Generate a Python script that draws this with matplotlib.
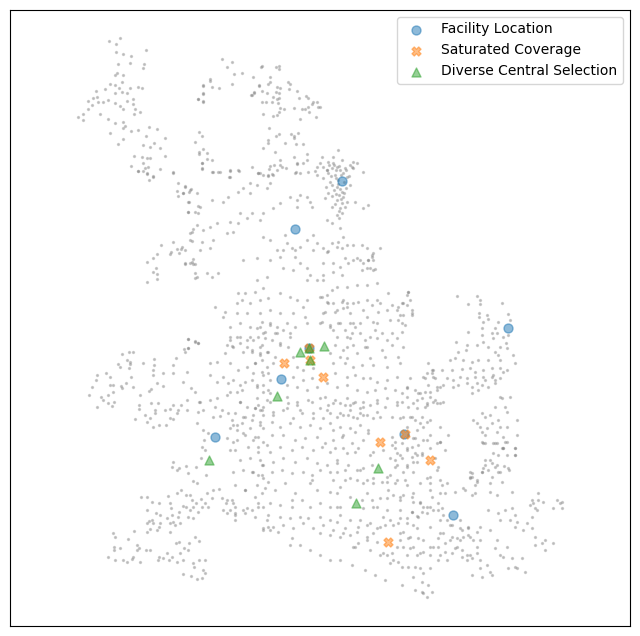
import numpy as np
import matplotlib
matplotlib.use("Agg")
import matplotlib.pyplot as plt

# Selected points (embedding coordinates)
facility_x = [342, 295, 508, 309, 281, 215, 404, 453]
facility_y = [181, 229, 328, 348, 379, 437, 434, 515]
saturated_x = [309, 284, 310, 323, 405, 380, 430, 388]
saturated_y = [348, 363, 360, 377, 434, 442, 460, 542]
diverse_x = [300, 309, 310, 324, 277, 209, 378, 356]
diverse_y = [352, 348, 360, 346, 396, 460, 468, 503]

series_labels = ["Facility Location", "Saturated Coverage", "Diverse Central Selection"]

# Background point cloud (hand-read approximate positions)
background_xy = [
(109,41),(120,38),(116,44),(116,52),(123,54),(131,56),(146,50),(118,64),(130,63),(144,64),(143,68),(115,75),(123,75),(117,73),
(96,91),(105,89),(110,84),(115,85),(122,82),(119,88),(130,88),(138,87),(142,88),(115,93),(122,92),(127,93),(88,101),(93,98),
(97,97),(98,102),(103,102),(108,100),(115,103),(120,106),(127,101),(133,99),(133,104),(92,105),(88,109),(78,117),(83,120),(83,114),
(100,114),(108,119),(123,109),(135,109),(140,112),(134,114),(115,123),(123,122),(125,126),(123,128),(131,131),(138,130),(149,127),
(157,129),(110,133),(123,139),(146,136),(118,144),(143,145),(150,147),(154,143),(160,148),(165,138),(134,156),(142,157),(147,158),
(150,158),(143,163),(148,167),(145,168),(131,166),(138,171),(147,174),(153,177),(160,169),(165,156),(173,173),
(222,59),(232,62),(227,67),(234,74),(242,73),(253,77),(210,79),(210,81),(203,86),(212,87),(219,88),(232,84),(254,92),(252,95),
(198,99),(203,94),(203,101),(259,85),(199,132),(202,136),(195,142),(203,149),(199,152),(199,154),(207,153),(207,159),(212,160),
(202,163),(202,169),(212,172),(218,172),(230,171),(239,171),(229,177),(258,173),
(262,66),(261,67),(276,67),(279,66),(279,69),(270,77),(270,82),(268,84),(259,86),(277,87),(280,88),(288,82),(290,84),(289,89),
(297,91),(262,91),(267,93),(276,92),(279,93),(254,93),(251,95),(306,96),(308,98),(299,98),(279,98),(273,97),(277,99),(262,102),
(266,102),(272,102),(278,103),(313,102),(317,102),(312,104),(308,107),(305,109),(302,109),(294,108),(318,107),(320,107),(280,108),
(284,109),(279,112),(309,112),(263,114),(273,116),(277,115),(316,117),(300,119),(203,85),(203,93),(198,99),(203,102),
(269,128),(279,134),(276,136),(291,134),(294,136),(298,133),(294,138),(296,144),(303,144),(268,140),(268,143),(285,143),(263,148),
(275,152),(294,157),(307,154),(280,160),(282,167),(286,168),(270,166),(274,165),(269,169),(258,173),(263,175),(268,176),(272,174),
(297,164),(296,172),(300,173),(322,157),(307,160),(317,167),(315,171),
(338,150),(333,157),(328,162),(323,167),(350,165),(357,163),(353,168),(363,172),(327,170),
(333,163),(337,167),(332,168),(340,170),(328,173),(335,175),(343,173),(347,177),(323,178),(338,180),(337,187),(342,192),(339,195),
(343,197),(337,200),(342,203),(340,208),(332,207),(347,202),(352,167),(353,162),(317,175),(320,163),(327,170),(332,185),(328,193),
(325,198),(350,185),(355,202),(363,208),(368,205),(337,215),(342,213),(339,218),(340,228),(327,220),(332,223),(343,237),(338,242),
(332,243),(337,247),(342,248),(323,248),(327,252),(347,245),(353,245),(362,245),(367,248),(372,255),(373,260),(368,260),(353,260),
(360,260),(370,268),(373,270),(362,270),(380,248),
(334,165),(336,170),(339,166),(341,175),(345,168),(331,176),(336,178),(344,182),(330,182),(338,184),(346,188),(334,190),(340,189),
(336,194),(344,193),(332,196),(341,199),(335,204),(345,207),(339,211),(346,170),(329,165),(342,160),(349,176),(326,187),
(202,163),(202,168),(213,172),(220,172),(230,170),(238,170),(230,177),(252,167),(260,173),(268,175),(273,175),(277,170),(280,165),
(297,163),(303,163),(295,173),(308,172),(270,183),(267,188),(257,185),(250,183),(243,188),(238,192),(250,193),(228,197),(223,202),
(212,200),(197,193),(190,190),(183,193),(185,187),(188,202),(200,207),(198,213),(188,212),(290,197),(300,195),(307,197),(297,200),
(310,202),(312,207),(297,207),(280,203),(273,208),(263,213),(260,220),(252,213),(240,213),(247,218),(238,223),(233,232),(227,233),
(230,222),(217,223),(210,227),(203,230),(192,232),(190,240),(202,242),(213,240),(210,248),(200,250),(185,250),(182,247),(263,237),
(270,240),(285,235),(287,243),(292,248),(295,250),(283,250),(277,250),(300,247),(307,240),(313,235),(317,243),(313,250),(192,262),
(185,263),(195,273),(207,273),(212,277),(218,273),(243,260),(257,258),(270,260),(280,257),(295,257),(300,263),(307,268),(310,275),
(293,270),(283,268),(267,277),(257,280),(307,280),(317,280),(323,280),(333,272),(340,267),(342,275),(337,287),(347,287),(357,285),
(367,285),(377,283),(263,288),(255,292),(245,293),(238,293),(242,300),(237,303),(250,303),(260,300),(268,298),(280,293),(290,297),
(297,300),(307,300),(320,297),(328,303),(323,313),(337,310),(347,307),(343,300),(353,303),(367,300),(377,300),(303,307),(305,317),
(293,313),(280,313),(270,310),(260,313),(247,313),(237,313),(225,312),(215,307),(223,317),(230,327),(240,323),(250,327),(260,327),
(270,323),(277,327),(287,323),(295,327),(307,323),(320,323),(330,327),(340,323),(353,323),(367,317),(377,323),(230,340),(240,337),
(250,337),(263,333),(277,333),(290,333),(337,337),(347,337),(360,333),(370,337),(233,347),(247,347),(260,347),(280,343),(347,347),
(367,347),
(138,171),(143,171),(147,173),(153,176),(149,180),(173,172),(178,183),(185,186),(191,189),(177,191),(183,193),(189,192),(178,196),
(189,202),(198,206),(188,212),(195,212),(197,225),(193,229),(190,233),(192,241),(173,242),(161,245),(177,249),(181,249),(171,252),
(170,254),(179,253),(157,254),(153,258),(147,262),(193,259),(190,263),(193,264),(185,264),(195,264),(156,268),(153,272),(157,274),
(157,279),(147,282),(197,277),(195,278),(188,339),(195,341),(198,343),(188,348),(184,349),
(122,354),(129,352),(133,352),(130,362),(130,364),(129,368),(127,360),(118,364),(120,367),(143,363),(154,359),(154,365),(153,370),
(163,373),(173,373),(173,365),(176,358),(185,352),(188,348),(195,342),(188,339),(198,343),(97,375),(96,380),(106,373),(110,377),
(110,385),(113,385),(121,386),(126,383),(133,387),(131,377),(92,387),(89,395),(101,397),(103,400),(108,403),(112,406),(114,402),
(97,407),(108,395),(113,392),(122,388),(153,375),(157,383),(163,386),(151,389),(149,391),(140,395),(139,405),(139,409),(151,403),
(158,403),(145,415),(135,419),(147,422),(150,418),(153,427),(159,425),(166,425),(155,410),(155,413),(165,410),(170,409),(173,405),
(177,413),(178,410),(181,405),(170,418),(173,419),(187,400),(187,410),(183,382),(187,372),(191,388),(195,392),(199,402),(198,412),
(197,423),(203,410),(203,430),(208,433),(204,440),(202,447),(205,450),(201,458),(173,462),(172,467),(177,470),(179,468),(186,466),
(188,473),(196,467),(206,475),(193,481),(197,483),
(141,497),(147,497),(152,502),(159,503),(147,510),(168,496),(170,503),(171,508),(181,490),(177,493),(186,495),(190,495),(192,500),
(196,503),(193,507),(190,510),(183,506),(179,512),(178,517),(172,515),(167,518),(156,513),(160,515),(152,520),(147,523),(160,523),
(150,529),(159,527),(170,523),(173,522),(175,525),(180,523),(188,517),(193,518),(198,512),(202,507),(205,503),(212,498),(213,490),
(207,493),(219,489),(222,498),(226,503),(227,500),(233,503),(230,510),(227,513),(235,513),(235,520),(223,510),(208,507),(201,499),
(186,507),(170,532),(113,533),(115,537),(128,539),(134,531),(137,545),(139,548),(137,550),(146,550),(150,550),(114,547),(120,548),
(114,550),(108,557),(115,560),(123,560),(127,562),(132,559),(140,562),(133,557),(159,557),(158,560),(163,558),(169,560),(172,557),
(167,553),(177,562),(183,560),(176,543),(179,542),(184,548),(189,543),(195,537),(199,541),(188,550),(180,553),(193,563),(199,560),
(205,560),(194,567),(203,570),(205,573),(183,574),(191,576),(197,579),(202,578),(147,532),(153,523),(157,530),(149,521),
(230,337),(237,337),(227,345),(232,346),(240,343),(247,340),(243,352),(252,350),(258,337),(265,338),(260,353),(267,352),(225,353),
(217,362),(210,363),(230,363),(238,370),(247,367),(255,363),(262,360),(262,372),(268,373),(210,375),(217,382),(223,377),(228,383),
(233,380),(240,385),(245,382),(252,380),(257,385),(263,385),(263,392),(270,393),(230,392),(237,392),(242,390),(227,395),(217,398),
(210,400),(200,402),(215,407),(222,410),(228,413),(240,402),(247,407),(255,408),(262,410),(258,405),(243,417),(252,420),(260,422),
(213,417),(220,416),(232,420),(237,425),(230,428),(237,430),(243,433),(253,440),(258,437),(263,428),(267,445),(258,447),(227,438),
(233,442),(230,450),(260,460),(263,465),(253,472),(258,475),(263,478),(268,482),(245,490),(255,497),(262,493),(243,510),(252,510),
(258,503),(263,507),(263,530),(268,527),
(240,402),(255,408),(263,407),(270,402),(288,403),(297,405),(312,402),(320,408),(328,405),(340,403),(350,405),(360,408),(370,405),
(377,412),(235,413),(245,417),(253,415),(263,415),(273,415),(283,410),(293,418),(302,413),(313,418),(323,418),(330,413),(343,415),
(353,417),(363,415),(373,418),(233,425),(242,423),(250,428),(260,425),(272,422),(280,427),(290,423),(300,427),(310,425),(320,428),
(330,423),(340,427),(350,428),(360,425),(368,430),(237,440),(245,435),(255,437),(263,442),(272,435),(283,435),(295,440),(305,438),
(317,437),(325,443),(333,440),(342,437),(352,443),(363,440),(235,450),(248,447),(258,452),(270,452),(280,447),(292,450),(302,447),
(313,450),(322,447),(330,452),(343,448),(355,452),(370,455),(240,460),(250,458),(262,465),(273,462),(283,458),(295,462),(307,458),
(317,463),(327,465),(337,460),(345,470),(357,470),(363,468),(372,465),(233,472),(243,470),(252,472),(262,475),(272,472),(282,470),
(292,473),(303,472),(312,475),(320,470),(330,472),(337,472),(345,480),(357,480),(367,480),(373,483),(235,485),(245,490),(257,485),
(265,488),(275,490),(285,483),(295,493),(310,483),(312,480),(317,490),(330,492),(340,487),(362,500),(372,500),(377,507),(232,500),
(235,507),(247,508),(258,507),(270,503),(280,505),(292,500),(292,507),(302,500),(310,507),(320,503),(330,507),(340,507),(235,515),
(245,513),(255,517),(268,515),(280,517),(290,518),(300,517),(308,518),(320,517),(330,520),(340,515),(345,528),(358,527),(367,525),
(377,528),(263,528),(273,527),(283,525),(293,528),(303,523),(313,528),(323,525),(333,530),(267,520),(270,530),(278,532),(292,538),
(320,533),(330,535),(340,537),(350,535),(353,547),(358,543),(367,540),(377,542),
(328,251),(323,263),(333,263),(345,258),(348,263),(357,258),(363,263),(368,260),(372,257),(373,253),(375,269),(367,268),(323,275),
(332,290),(327,295),(322,297),(327,302),(333,303),(342,302),(347,303),(358,302),(372,305),(380,303),(388,293),(392,305),(398,307),
(403,303),(408,292),(410,300),(325,312),(335,312),(343,308),(350,313),(363,310),(378,312),(387,310),(397,310),(400,315),(412,313),
(322,322),(330,325),(338,323),(350,323),(355,327),(360,323),(373,322),(390,320),(398,320),(405,325),(333,330),(345,330),(352,333),
(375,330),(382,333),(392,333),(402,332),(350,338),(365,340),(377,338),(387,340),(397,338),(335,345),(343,350),(353,345),(365,347),
(382,350),(392,345),(403,347),(330,353),(340,357),(347,358),(357,353),(370,358),(385,357),(398,357),(333,363),(345,363),(353,367),
(362,365),(373,365),(387,367),(400,363),(428,363),(432,370),(335,373),(347,377),(355,375),(363,378),(370,378),(377,382),(387,380),
(397,377),(410,378),(423,377),(427,373),(435,378),(327,383),(337,387),(347,385),(357,390),(367,392),(375,390),(385,388),(395,390),
(407,387),(415,390),(420,393),(430,392),(437,387),(325,397),(335,400),(347,398),(353,403),(363,402),(377,400),(387,398),(397,402),
(407,397),(417,400),(427,403),(435,400),
(262,322),(270,325),(257,328),(265,332),(275,333),(283,330),(290,337),(253,340),(262,345),(272,340),(280,345),(288,347),(252,352),
(260,355),(268,352),(275,357),(293,357),(255,363),(267,367),(273,363),(297,367),(303,370),(313,368),(253,373),(263,375),(270,380),
(293,377),(303,380),(312,378),(257,387),(268,390),(287,385),(297,387),(307,390),(317,387),(257,398),(267,400),(287,397),(297,402),
(308,400),(320,398),(260,410),(273,412),(287,408),(300,410),(313,413),(327,410),(340,413),(350,410),(360,413),
(333,403),(345,405),(355,402),(363,407),(377,403),(385,407),(397,405),(402,402),(413,403),(427,405),(437,403),(443,402),(337,417),
(348,415),(357,418),(367,415),(380,417),(392,417),(400,418),(412,417),(420,423),(430,420),(440,427),(333,430),(343,435),(355,432),
(368,433),(392,437),(395,442),(413,438),(423,440),(437,443),(335,448),(347,453),(358,448),(373,452),(383,450),(397,453),(407,448),
(417,455),(445,450),(337,463),(348,465),(360,470),(390,458),(397,465),(407,467),(413,472),(430,477),(440,480),(470,478),(477,482),
(333,480),(350,478),(363,483),(373,478),(387,482),(397,480),(407,485),(420,483),(430,490),(442,485),(463,488),(475,493),(337,493),
(350,497),(367,493),(380,498),(393,495),(400,500),(412,497),(420,503),(430,507),(438,510),(337,507),(363,508),(373,507),(387,510),
(400,510),(412,512),(418,517),(427,513),(440,520),(450,525),(460,528),(468,527),(477,532),(337,522),(350,520),(360,520),(370,523),
(380,527),(393,525),(407,523),(417,528),(430,527),(440,533),(452,537),(463,537),(473,540),(343,533),(357,532),(367,537),(373,533),
(400,533),(410,537),(423,540),(355,547),(370,550),(380,555),(397,547),(410,548),(420,553),(433,547),(445,552),(457,547),(467,555),
(477,553),
(483,443),(495,443),(505,442),(503,448),(515,448),(498,455),(515,455),(490,460),(485,465),(495,467),(504,466),(488,470),(498,472),
(509,470),(470,472),(482,472),(472,477),(477,480),(490,483),(502,482),(465,490),(475,485),(472,495),(490,492),(497,495),(512,492),
(455,492),(440,493),(445,493),(447,483),(427,478),(430,483),(432,497),(438,503),(433,510),(420,502),(413,502),(423,507),(422,512),
(427,507),(417,516),(412,512),(407,518),(400,518),(403,495),(413,493),(400,497),(387,498),(388,490),(395,483),(405,480),(387,477),
(382,482),(390,475),(403,472),(407,465),(395,460),(402,458),(395,467),(392,445),(395,448),(400,455),(412,457),(417,462),(407,450),
(422,453),(430,448),(440,442),(442,508),(443,515),(447,520),(452,525),(460,520),(462,530),(468,528),(470,537),(480,527),(480,540),
(477,547),(470,555),(462,550),(457,538),(450,540),(445,543),(452,553),(447,560),(440,555),(438,547),(443,533),(438,538),(468,535),
(460,540),(455,548),(462,557),(467,560),(472,558),(480,560),(487,565),(480,568),(490,572),(472,575),(482,577),(492,575),(500,555),
(503,557),(495,548),(507,547),(497,540),(490,530),(498,513),(505,510),(512,508),(515,515),(517,522),(515,527),(500,520),(510,520),
(488,510),(512,558),(515,567),(522,558),(508,568),(517,568),(525,572),(532,500),(530,505),(535,508),(537,510),(532,517),(533,503),
(538,500),(543,502),(538,493),(527,523),(532,528),(523,530),(535,537),(535,545),(542,543),(545,540),(545,550),(553,543),(557,500),
(560,503),(562,508),(553,508),(562,502),(383,517),(390,520),(385,525),(398,523),(403,532),(413,525),(418,538),(408,538),(400,540),
(403,547),(413,547),(423,552),(430,547),(430,555),(438,560),(417,555),(407,555),(398,562),(390,563),(402,567),(408,567),(415,567),
(420,568),(430,568),(413,577),(423,573),(422,582),(428,585),(422,592),(432,592),(427,597),(423,593),(383,553),(387,555),(392,553),
(340,560),(352,565),(365,570),(375,575),(385,580),(393,560),(402,585),(415,590),(300,545),(310,550),(290,545),(320,555),(330,560),
(408,292),(407,295),(402,303),(407,305),(412,310),(412,315),(403,315),(402,323),(457,296),(477,296),(480,300),(480,304),(468,304),
(502,303),(479,313),(479,317),(487,315),(488,319),(483,322),(498,322),(495,328),(508,314),(510,320),(482,328),(468,332),(492,333),
(497,333),(493,338),(503,337),(508,335),(482,335),(506,343),(507,348),(500,347),(483,342),(488,347),(477,345),(467,345),(466,350),
(456,342),(458,352),(495,352),(498,355),(513,355),(515,363),(478,360),(488,360),(500,360),(450,360),(455,358),(463,360),(472,362),
(442,370),(452,370),(462,369),(470,368),(475,372),(483,370),(492,368),(500,368),(503,372),(507,370),(433,370),(432,373),(425,378),
(433,377),(447,378),(453,380),(460,377),(467,378),(475,377),(483,377),(492,377),(495,380),(500,378),(493,375),(485,380),(477,383),
(467,383),(458,385),(453,387),(443,385),(440,387),(437,390),(428,385),(472,387),(482,385),(488,387),(495,383),(478,390),(472,393),
(407,388),(402,393),(418,393),(425,392),(422,398),(430,397),(433,402),(440,403),(425,407),(417,408),(408,407),(410,417),(415,420),
(422,417),(403,417),(427,422),(417,430),(423,427),(430,435),(448,435),(407,427),(408,435),(402,443),(415,438),(412,447),(418,445),
(427,440),(440,442),(422,455),(415,453),(413,462),(435,458),(438,467),(437,470),(500,397),(502,398),(510,397),(505,407),(495,407),
(507,412),(482,413),(485,417),(490,415),(517,420),(498,420),(492,423),(480,427),(473,420),(477,423),(487,428),(500,427),(507,427),
(485,435),(482,432),(497,432),(503,437),(517,435),(482,442),(485,443),(493,443),(497,443),(507,442),(502,448),(503,448),(515,448),
(493,453),(507,455),(485,460),(492,463),(497,465),(483,468),(500,472),(482,472),(472,473),(470,477),(492,477),(508,468),(515,455),
]

bg = np.array(background_xy, dtype=float)

fig = plt.figure(figsize=(6.4, 6.36), dpi=100)
ax = fig.add_axes([10 / 640, 10 / 636, 620 / 640, 616 / 636])

ax.scatter(bg[:, 0], bg[:, 1], s=2, c="gray", alpha=0.35)
ax.scatter(facility_x, facility_y, marker="o", s=42, color="tab:blue", alpha=0.5, label=series_labels[0])
ax.scatter(saturated_x, saturated_y, marker="X", s=42, color="tab:orange", alpha=0.5, label=series_labels[1])
ax.scatter(diverse_x, diverse_y, marker="^", s=42, color="tab:green", alpha=0.5, label=series_labels[2])

ax.set_xlim(10, 630)
ax.set_ylim(626, 10)
ax.set_xticks([])
ax.set_yticks([])
ax.legend(loc="upper right", fontsize=10)

fig.savefig("out.png", dpi=100)
